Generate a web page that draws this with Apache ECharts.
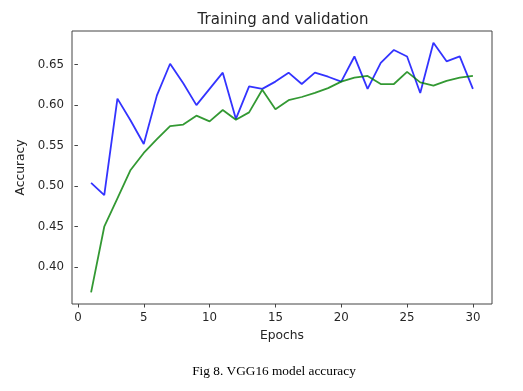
<!DOCTYPE html>
<html>
<head>
<meta charset="utf-8">
<script src="https://cdn.jsdelivr.net/npm/echarts@6/dist/echarts.min.js"></script>
<style>
html,body{margin:0;padding:0;background:#fff;}
#chart{width:523px;height:391px;}
</style>
</head>
<body>
<div id="chart"></div>
<script>
const epochs = [1,2,3,4,5,6,7,8,9,10,11,12,13,14,15,16,17,18,19,20,21,22,23,24,25,26,27,28,29,30];
const blueAcc = [0.504,0.489,0.608,0.581,0.552,0.612,0.651,0.627,0.600,0.620,0.640,0.583,0.623,0.620,0.629,0.640,0.626,0.640,0.635,0.629,0.660,0.620,0.652,0.668,0.660,0.615,0.677,0.654,0.660,0.620];
const greenAcc = [0.369,0.450,0.485,0.520,0.541,0.558,0.574,0.576,0.587,0.580,0.594,0.582,0.591,0.619,0.595,0.606,0.610,0.615,0.621,0.629,0.634,0.636,0.626,0.626,0.641,0.628,0.624,0.630,0.634,0.636];
const xTicks = [0,5,10,15,20,25,30];
const yTicks = [0.40,0.45,0.50,0.55,0.60,0.65];

const chart = echarts.init(document.getElementById('chart'), null, {renderer:'canvas'});
const font = 'DejaVu Sans';
chart.setOption({
  animation:false,
  backgroundColor:'#fff',
  title:{
    text:'Training and validation',
    left:278, top:8, textAlign:'center',
    textStyle:{fontFamily:font,fontSize:15,fontWeight:'normal',color:'#262626'}
  },
  graphic:[{
    type:'text', x:274, y:365,
    style:{text:'Fig 8. VGG16 model accuracy', font:'13.3px "Liberation Serif"', fill:'#000', align:'center', textAlign:'center'}
  }],
  grid:{left:72,right:31,top:31,bottom:87,show:true,borderColor:'#444',borderWidth:1,backgroundColor:'transparent'},
  xAxis:{
    type:'value', min:-0.45, max:31.45,
    name:'Epochs', nameLocation:'middle', nameGap:26,
    nameTextStyle:{fontFamily:font,fontSize:12.3,color:'#262626'},
    axisLine:{show:false},
    splitLine:{show:false},
    axisTick:{show:true,length:3.5,inside:false,customValues:xTicks,lineStyle:{color:'#444'}},
    axisLabel:{customValues:xTicks,fontFamily:font,fontSize:11.8,color:'#262626',margin:8}
  },
  yAxis:{
    type:'value', min:0.3547, max:0.6914,
    name:'Accuracy', nameLocation:'middle', nameGap:43, nameRotate:90,
    nameTextStyle:{fontFamily:font,fontSize:12.3,color:'#262626'},
    axisLine:{show:false},
    splitLine:{show:false},
    axisTick:{show:true,length:3.5,customValues:yTicks,lineStyle:{color:'#444'}},
    axisLabel:{customValues:yTicks,fontFamily:font,fontSize:11.8,color:'#262626',margin:8,
      formatter:v=>v.toFixed(2)}
  },
  series:[
    {type:'line',data:epochs.map((e,i)=>[e,blueAcc[i]]),showSymbol:false,
      lineStyle:{color:'rgba(0,0,255,0.8)',width:1.8},itemStyle:{color:'#0000ff'}},
    {type:'line',data:epochs.map((e,i)=>[e,greenAcc[i]]),showSymbol:false,
      lineStyle:{color:'rgba(0,128,0,0.8)',width:1.8},itemStyle:{color:'#008000'}}
  ]
});
</script>
</body>
</html>
